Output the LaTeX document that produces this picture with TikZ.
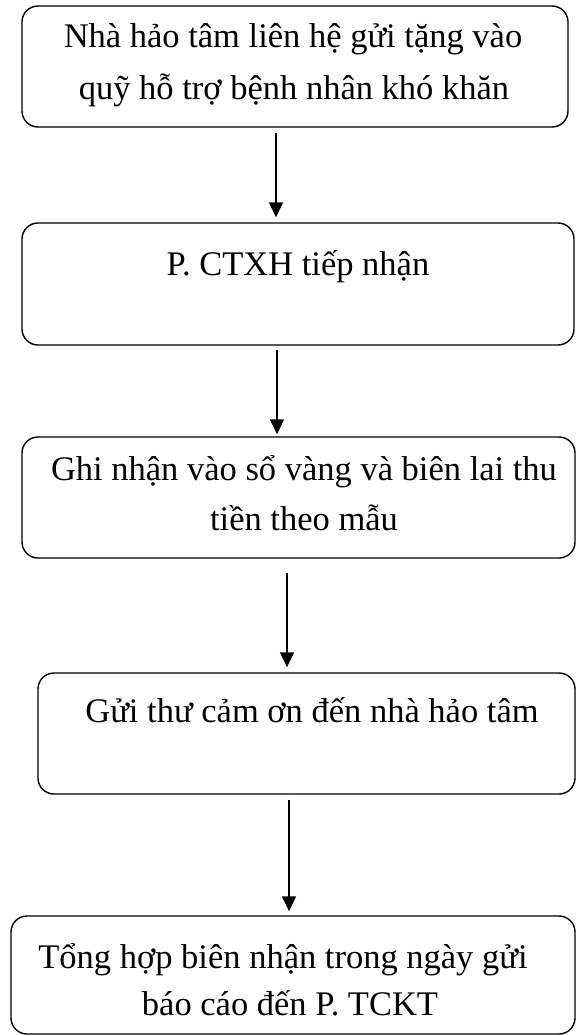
\documentclass[tikz,border=0pt]{standalone}
\usepackage{fontspec}
\setmainfont{Liberation Serif}
\usetikzlibrary{arrows.meta}

\begin{document}
\begin{tikzpicture}[x=1pt,y=-1pt]
					\useasboundingbox (0,0) rectangle (576,1035);
					\tikzstyle{stepbox}=[draw,line width=1.4pt,rounded corners=16pt,inner sep=0pt];
					\tikzstyle{steptext}=[anchor=base,inner sep=0pt,font=\fontsize{34.5}{52}\selectfont];
					\tikzstyle{flow}=[line width=1.4pt,-{Triangle[length=15pt,width=14pt]}];
					% boxes
					\path (295,66.5) node[stepbox,minimum width=546pt,minimum height=121pt] (b1) {};
					\path (298,284) node[stepbox,minimum width=552pt,minimum height=122pt] (b2) {};
					\path (298.5,497.5) node[stepbox,minimum width=553pt,minimum height=121pt] (b3) {};
					\path (306.5,733.5) node[stepbox,minimum width=537pt,minimum height=121pt] (b4) {};
					\path (293,975) node[stepbox,minimum width=564pt,minimum height=118pt] (b5) {};
					% texts
					\path (293,48) node[steptext] (t11) {Nhà hảo tâm liên hệ gửi tặng vào};
					\path (294,100) node[steptext] (t12) {quỹ hỗ trợ bệnh nhân khó khăn};
					\path (298,275) node[steptext] (t21) {P. CTXH tiếp nhận};
					\path (304,480) node[steptext] (t31) {Ghi nhận vào sổ vàng và biên lai thu};
					\path (304,530) node[steptext] (t32) {tiền theo mẫu};
					\path (312,722) node[steptext] (t41) {Gửi thư cảm ơn đến nhà hảo tâm};
					\path (283,968) node[steptext] (t51) {Tổng hợp biên nhận trong ngày gửi};
					\path (290,1015) node[steptext] (t52) {báo cáo đến P. TCKT};
					% arrows
					\coordinate (c1) at (276,0);
					\coordinate (c2) at (277,0);
					\coordinate (c3) at (287,0);
					\coordinate (c4) at (289,0);
					\draw[flow,shorten <=5pt,shorten >=5pt] (b1.south -| c1) -- (b2.north -| c1);
					\draw[flow,shorten <=4pt,shorten >=2pt] (b2.south -| c2) -- (b3.north -| c2);
					\draw[flow,shorten <=14pt,shorten >=5pt] (b3.south -| c3) -- (b4.north -| c3);
					\draw[flow,shorten <=5pt,shorten >=4pt] (b4.south -| c4) -- (b5.north -| c4);
\end{tikzpicture}
\end{document}
